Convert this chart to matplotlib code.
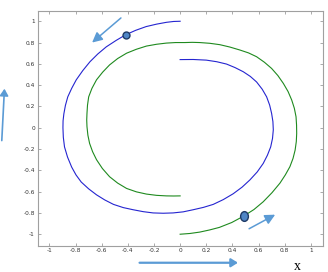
import matplotlib
matplotlib.use("Agg")
import matplotlib.pyplot as plt
from matplotlib.markers import MarkerStyle
from matplotlib.transforms import Affine2D
from matplotlib.patches import FancyArrowPatch

# outer blue spiral
blue_x = [0.0, -0.05, -0.105, -0.18, -0.26, -0.34, -0.417, -0.49, -0.565, -0.63,
          -0.69, -0.745, -0.795, -0.83, -0.86, -0.878, -0.89, -0.896, -0.897, -0.894,
          -0.885, -0.862, -0.83, -0.797, -0.757, -0.70, -0.64, -0.577, -0.51, -0.435,
          -0.36, -0.283, -0.207, -0.13, -0.054, 0.023, 0.10, 0.178, 0.253, 0.33,
          0.406, 0.474, 0.534, 0.59, 0.636, 0.668, 0.693, 0.707, 0.713, 0.71,
          0.70, 0.685, 0.662, 0.628, 0.585, 0.537, 0.483, 0.42, 0.355, 0.28,
          0.20, 0.10, 0.0]
blue_y = [1.0, 0.998, 0.99, 0.973, 0.95, 0.915, 0.873, 0.82, 0.76, 0.693,
          0.62, 0.537, 0.45, 0.37, 0.29, 0.21, 0.13, 0.065, 0.0, -0.09,
          -0.18, -0.275, -0.37, -0.443, -0.51, -0.574, -0.63, -0.678, -0.72, -0.75,
          -0.77, -0.788, -0.80, -0.803, -0.80, -0.79, -0.77, -0.748, -0.72, -0.675,
          -0.62, -0.558, -0.49, -0.415, -0.335, -0.258, -0.18, -0.10, -0.02, 0.058,
          0.135, 0.213, 0.29, 0.362, 0.43, 0.482, 0.526, 0.565, 0.598, 0.62,
          0.635, 0.641, 0.64]

# green spiral
green_x = [0.0, 0.075, 0.15, 0.225, 0.30, 0.395, 0.486, 0.565, 0.636, 0.703,
           0.764, 0.805, 0.84, 0.864, 0.88, 0.889, 0.892, 0.891, 0.887, 0.874,
           0.854, 0.826, 0.79, 0.748, 0.70, 0.645, 0.585, 0.523, 0.457, 0.38,
           0.304, 0.227, 0.15, 0.093, 0.036, -0.035, -0.105, -0.18, -0.258, -0.335,
           -0.41, -0.478, -0.54, -0.593, -0.64, -0.675, -0.70, -0.709, -0.713, -0.715,
           -0.713, -0.706, -0.693, -0.67, -0.64, -0.595, -0.54, -0.478, -0.41, -0.335,
           -0.258, -0.18, -0.105, -0.05, 0.0]
green_y = [-1.0, -0.993, -0.98, -0.96, -0.936, -0.89, -0.83, -0.768, -0.695, -0.61,
           -0.52, -0.443, -0.366, -0.288, -0.21, -0.13, -0.053, 0.025, 0.103, 0.183,
           0.26, 0.34, 0.416, 0.49, 0.557, 0.615, 0.667, 0.703, 0.73, 0.758,
           0.78, 0.793, 0.80, 0.802, 0.80, 0.80, 0.795, 0.784, 0.767, 0.737,
           0.70, 0.65, 0.59, 0.522, 0.45, 0.37, 0.29, 0.212, 0.135, 0.072,
           0.01, -0.07, -0.147, -0.225, -0.30, -0.383, -0.46, -0.52, -0.57, -0.602,
           -0.623, -0.635, -0.64, -0.641, -0.64]

# marked points
dots_x = [-0.417, 0.486]
dots_y = [0.873, -0.83]

ticks = [-1, -0.8, -0.6, -0.4, -0.2, 0, 0.2, 0.4, 0.6, 0.8, 1]
tick_labels = ["-1", "-0.8", "-0.6", "-0.4", "-0.2", "0", "0.2", "0.4", "0.6", "0.8", "1"]

arrow_col = "#5b9bd5"
fig = plt.figure(figsize=(3.28, 2.72), dpi=100)
ax = fig.add_axes([0.115, 0.097, 0.87, 0.864])

ax.plot(blue_x, blue_y, color="#2525d0", lw=0.8)
ax.plot(green_x, green_y, color="#1f8a1f", lw=0.8)
ax.plot(dots_x[:1], dots_y[:1], "o", ms=5, mfc="#4f86c6", mec="#1f3b66", mew=1)
tall = MarkerStyle("o", transform=Affine2D().scale(0.8, 1.0))
ax.plot(dots_x[1:], dots_y[1:], marker=tall, ls="none", ms=7, mfc="#4f86c6", mec="#1f3b66", mew=1)

# arrows inside the plot
ax.annotate("", xy=(-0.69, 0.783), xytext=(-0.437, 1.048),
            arrowprops=dict(arrowstyle="-|>,head_length=0.6,head_width=0.3", color=arrow_col, lw=1.1))
ax.annotate("", xy=(0.746, -0.804), xytext=(0.509, -0.961),
            arrowprops=dict(arrowstyle="-|>,head_length=0.6,head_width=0.3", color=arrow_col, lw=1.1))

# arrows outside the axes
fig.patches.append(FancyArrowPatch(
    (0.005, 0.473), (0.014, 0.684), transform=fig.transFigure,
    arrowstyle="-|>,head_length=4,head_width=2.5", color=arrow_col, lw=1.2))
fig.patches.append(FancyArrowPatch(
    (0.417, 0.034), (0.734, 0.034), transform=fig.transFigure,
    arrowstyle="-|>,head_length=4,head_width=2.5", color=arrow_col, lw=1.6))
fig.text(0.908, 0.008, "x", family="Liberation Serif", fontsize=10, va="baseline", ha="center")

ax.set_xlim(-1.09, 1.094)
ax.set_ylim(-1.107, 1.1)
ax.set_xticks(ticks)
ax.set_xticklabels(tick_labels)
ax.set_yticks(ticks)
ax.set_yticklabels(tick_labels)
ax.tick_params(direction="in", length=2.5, width=0.5, color="#888888",
               labelsize=4.2, labelcolor="#333333", top=True, right=True, pad=2)
for s in ax.spines.values():
    s.set_color("#a0a0a0")
    s.set_linewidth(0.8)

fig.savefig("out.png", dpi=100)
